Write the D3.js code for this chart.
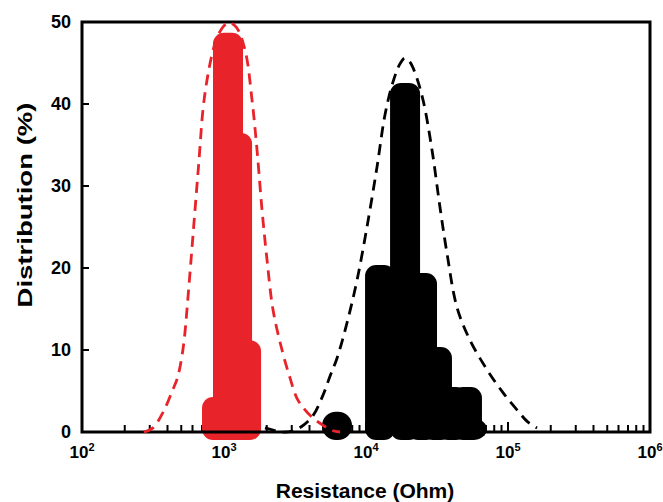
<!DOCTYPE html>
<html>
<head>
<meta charset="utf-8">
<script src="https://cdn.jsdelivr.net/npm/d3@7"></script>
<style>
  html, body { margin: 0; padding: 0; background: #ffffff; }
  svg { display: block; }
  text { font-family: "Liberation Sans", Arial, sans-serif; font-weight: bold; fill: #000; }
</style>
</head>
<body>
<svg id="chart" width="663" height="502"></svg>
<script>
// ---- data ----
const xDomain = [1e2, 1e6];
const yDomain = [0, 50];
const xTickExponents = [2, 3, 4, 5, 6];
const yTickValues = [0, 10, 20, 30, 40, 50];

// red histogram (resistance in Ohm, distribution %)
const redBinR = [893, 1067, 1236, 1430];
const redBinPct = [3.3, 47.7, 35.5, 10.2];

// black histogram
const blackBinR = [6250, 12560, 18840, 24800, 31600, 40330, 51400, 55700];
const blackBinPct = [1.5, 19.4, 41.6, 18.4, 9.4, 4.5, 4.5, 0.7];

// red dashed fit curve
const redCurveR = [273, 316, 372, 430, 470, 505, 530, 549, 586, 625, 667, 711, 759, 823, 907, 1067, 1215, 1406, 1575, 1708, 1852, 2009, 2214, 2562, 2916, 3267, 3719, 4236, 4898, 5763, 6561];
const redCurvePct = [0, 0.5, 2.4, 4.9, 6.6, 9.2, 12.0, 15.0, 21.0, 27.1, 33.2, 39.3, 42.9, 46.0, 48.4, 49.9, 49.4, 46.6, 40.5, 34.4, 27.1, 21.0, 14.9, 10.0, 6.6, 4.1, 2.7, 1.7, 0.9, 0.2, 0];

// black dashed fit curve
const blackCurveR = [1944, 2562, 3012, 3542, 4236, 4980, 5578, 6250, 7348, 8642, 10160, 11950, 13610, 15500, 17360, 18820, 20410, 22140, 25200, 29160, 33190, 37180, 43730, 54000, 71140, 92220, 115700, 138300, 160100];
const blackCurvePct = [0.5, 0, 0.1, 0.7, 2.0, 4.5, 6.8, 9.0, 13.3, 18.5, 25.0, 32.3, 38.7, 42.7, 44.9, 45.6, 45.1, 43.8, 40.5, 34.4, 27.4, 21.8, 15.2, 11.2, 7.6, 4.8, 2.7, 1.2, 0.5];

// ---- layout ----
const RED = "#e8232a";
const pLeft = 82, pRight = 650, pTop = 22, pBottom = 432;

const svg = d3.select("#chart");
const x = d3.scaleLog().domain(xDomain).range([pLeft, pRight]);
const y = d3.scaleLinear().domain(yDomain).range([pBottom, pTop]);

// minor / major ticks on x axis (pointing inward / upward)
const xMinor = [];
for (let e = xTickExponents[0]; e < xTickExponents[xTickExponents.length - 1]; e++) {
  for (let k = 2; k <= 9; k++) xMinor.push(k * Math.pow(10, e));
}
const tickG = svg.append("g");
tickG.selectAll("line.minor").data(xMinor).enter().append("line")
  .attr("x1", d => x(d)).attr("x2", d => x(d))
  .attr("y1", pBottom).attr("y2", pBottom - 7)
  .attr("stroke", "#000").attr("stroke-width", 2);
tickG.selectAll("line.major").data(xTickExponents.map(e => Math.pow(10, e))).enter().append("line")
  .attr("x1", d => x(d)).attr("x2", d => x(d))
  .attr("y1", pBottom).attr("y2", pBottom - 10)
  .attr("stroke", "#000").attr("stroke-width", 2);
tickG.selectAll("line.ytick").data(yTickValues).enter().append("line")
  .attr("x1", pLeft).attr("x2", pLeft + 7)
  .attr("y1", d => y(d)).attr("y2", d => y(d))
  .attr("stroke", "#000").attr("stroke-width", 2);

// histogram bars (thick rounded columns)
const barW = 30, pad = 8;
function drawBars(rs, ps, color) {
  const data = rs.map((r, i) => ({ r, p: ps[i] }));
  svg.append("g").selectAll("rect").data(data).enter().append("rect")
    .attr("x", d => x(d.r) - barW / 2)
    .attr("width", barW)
    .attr("y", d => y(d.p) - pad)
    .attr("height", d => y(0) - y(d.p) + 2 * pad)
    .attr("rx", d => (y(0) - y(d.p) + 2 * pad) < 32 ? 14 : 11)
    .attr("ry", d => (y(0) - y(d.p) + 2 * pad) < 32 ? 14 : 11)
    .attr("fill", color);
}
drawBars(redBinR, redBinPct, RED);
drawBars(blackBinR, blackBinPct, "#000");

// frame
svg.append("rect")
  .attr("x", pLeft).attr("y", pTop)
  .attr("width", pRight - pLeft).attr("height", pBottom - pTop)
  .attr("fill", "none").attr("stroke", "#000").attr("stroke-width", 3);

// dashed fit curves
const line = d3.line().x(d => x(d[0])).y(d => y(d[1])).curve(d3.curveCatmullRom.alpha(0.5));
svg.append("path")
  .attr("d", line(redCurveR.map((r, i) => [r, redCurvePct[i]])))
  .attr("fill", "none").attr("stroke", RED).attr("stroke-width", 2.8)
  .attr("stroke-dasharray", "11,7");
svg.append("path")
  .attr("d", line(blackCurveR.map((r, i) => [r, blackCurvePct[i]])))
  .attr("fill", "none").attr("stroke", "#000").attr("stroke-width", 2.8)
  .attr("stroke-dasharray", "11,7");

// x tick labels 10^n
const xl = svg.append("g").selectAll("text").data(xTickExponents).enter().append("text")
  .attr("x", d => x(Math.pow(10, d)))
  .attr("y", 458)
  .attr("text-anchor", "middle")
  .style("font-size", "17px");
xl.append("tspan").text("10");
xl.append("tspan").attr("dy", -7).style("font-size", "11px").text(d => d);

// y tick labels
svg.append("g").selectAll("text").data(yTickValues).enter().append("text")
  .attr("x", 71)
  .attr("y", d => y(d))
  .attr("dy", "0.36em")
  .attr("text-anchor", "end")
  .style("font-size", "18px")
  .text(d => d);

// axis titles
svg.append("text")
  .attr("x", 365).attr("y", 498)
  .attr("text-anchor", "middle")
  .style("font-size", "21px")
  .text("Resistance (Ohm)");

svg.append("text")
  .attr("transform", "translate(32,205) rotate(-90)")
  .attr("text-anchor", "middle")
  .attr("textLength", 205)
  .attr("lengthAdjust", "spacingAndGlyphs")
  .style("font-size", "20px")
  .text("Distribution (%)");
</script>
</body>
</html>
